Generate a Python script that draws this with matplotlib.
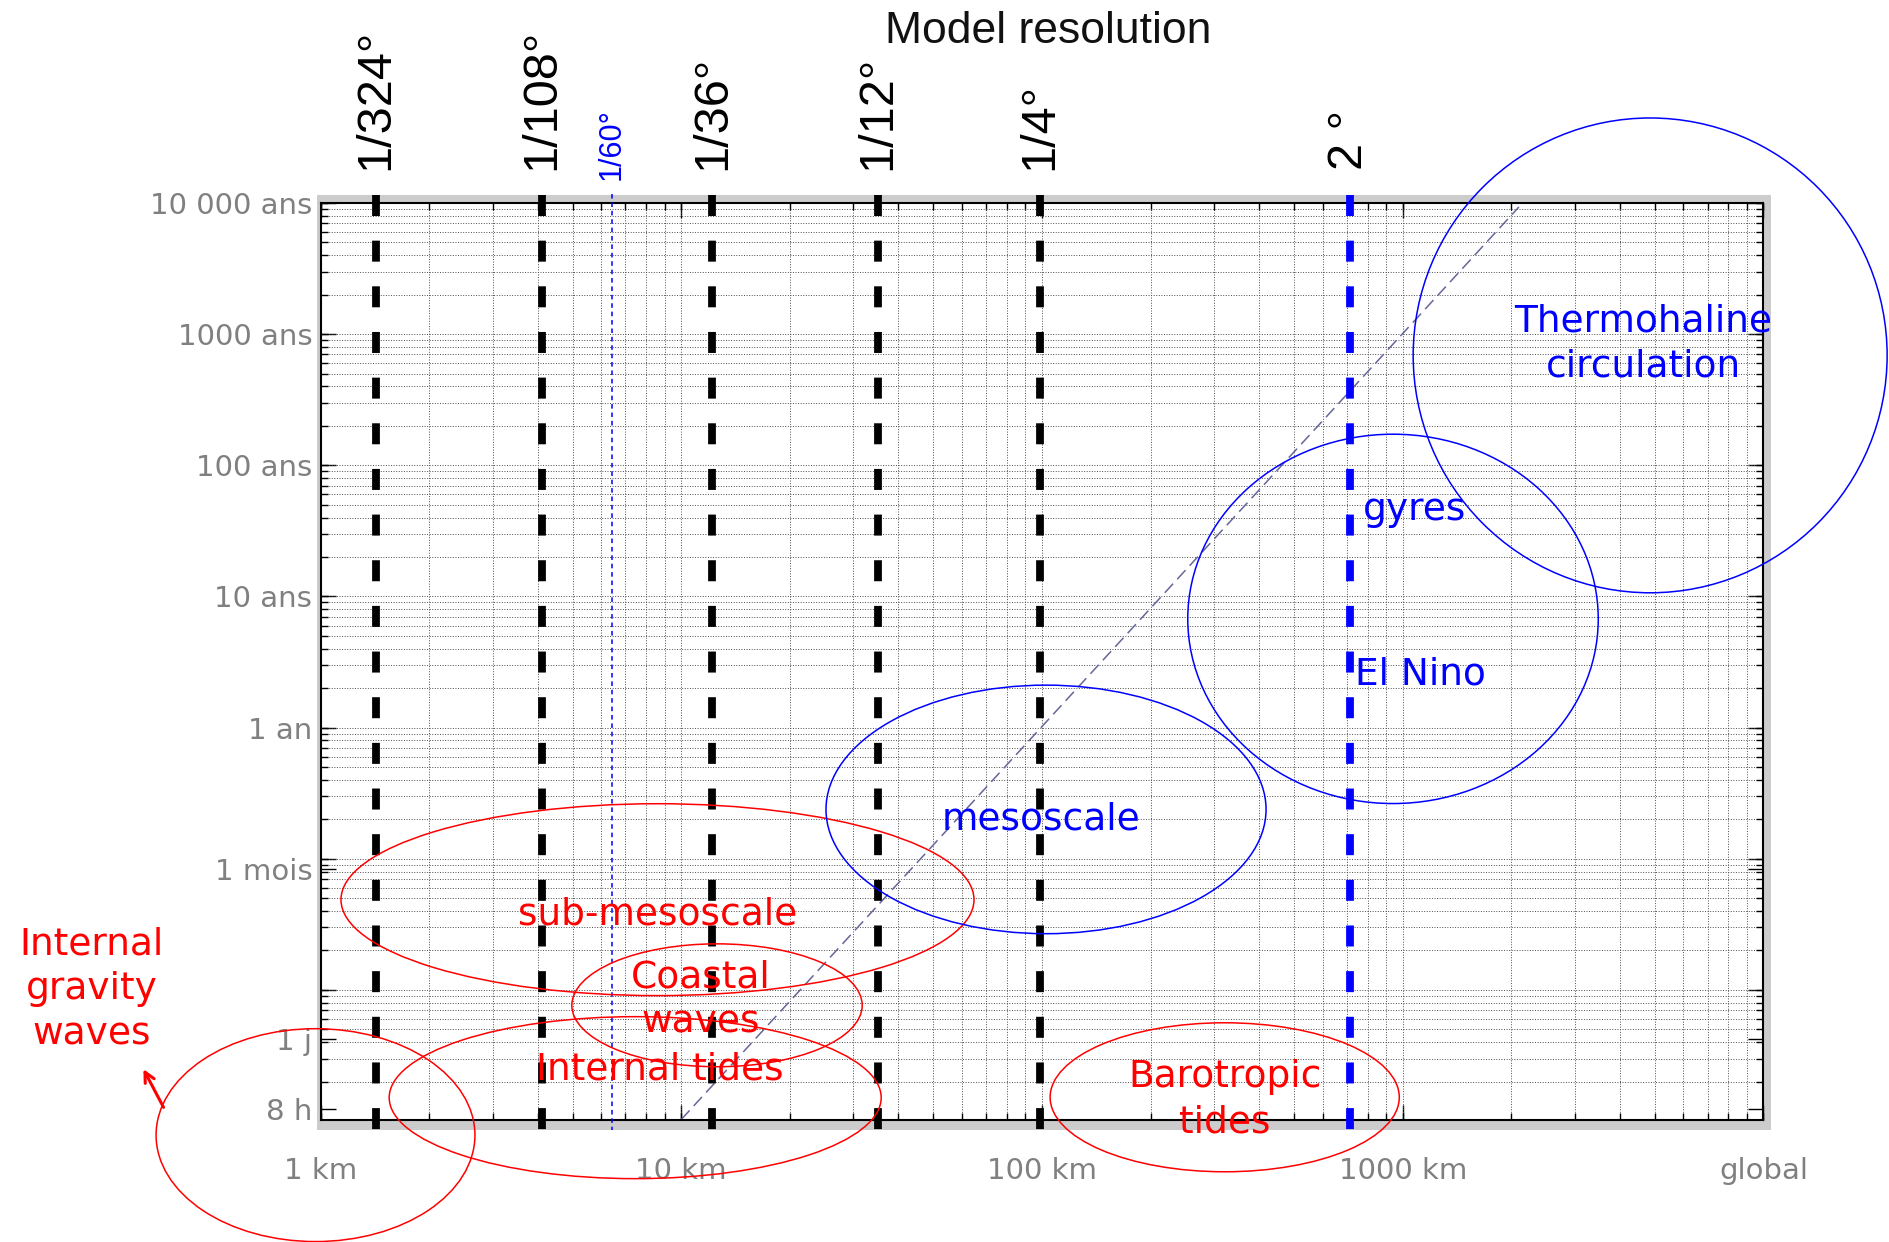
import numpy as np
import matplotlib
matplotlib.use("Agg")
import matplotlib.pyplot as plt
import matplotlib.transforms as mtransforms
from matplotlib.patches import Ellipse, Rectangle
from matplotlib.ticker import LogLocator, NullFormatter

# model resolutions (effective scale in km) drawn as thick dashed lines
res_labels = ["1/324°", "1/108°", "1/36°", "1/12°", "1/4°", "2 °"]
res_km = [1.42, 4.11, 12.2, 35.1, 98.8, 714]
res_colors = ["black", "black", "black", "black", "black", "blue"]
fine_label = "1/60°"
fine_km = 6.43

# processes: ellipse centre (km, years) and extent in decades
ell_names = ["sub-mesoscale", "coastal waves", "internal tides", "internal gravity waves",
             "barotropic tides", "mesoscale", "gyres / El Nino", "thermohaline"]
ell_km = [8.59, 12.56, 7.45, 0.968, 321, 102.6, 940, 4853]
ell_yr = [0.0488, 0.00764, 0.00151, 0.000782, 0.00152, 0.238, 6.75, 689]
ell_wdec = [1.755, 0.805, 1.364, 0.884, 0.968, 1.220, 1.138, 1.314]
ell_hdec = [1.463, 0.937, 1.235, 1.623, 1.136, 1.895, 2.816, 3.620]
ell_colors = ["red"] * 5 + ["blue"] * 3

# labels of the processes (baseline of the last line, km / years)
lab_text = ["Thermohaline\ncirculation", "gyres", "El Nino", "mesoscale", "sub-mesoscale",
            "Coastal\nwaves", "Internal tides", "Barotropic\ntides", "Internal\ngravity\nwaves"]
lab_km = [4640, 1082, 1117, 99.4, 8.57, 11.3, 8.73, 321, 0.232]
lab_yr = [472, 38.4, 2.12, 0.166, 0.0314, 0.00472, 0.00207, 0.000817, 0.00382]
lab_colors = ["blue"] * 4 + ["red"] * 5

# dispersion-like diagonal
diag_km = [10.0, 2100]
diag_yr = [0.00103, 9330]

xtick_vals = [1, 10, 100, 1000, 10000]
xtick_labels = ["1 km", "10 km", "100 km", "1000 km", "global"]
ytick_vals = [1e4, 1e3, 1e2, 10, 1, 0.1, 1 / 12, 0.01, 0.00425, 0.00124]
ytick_labels = ["10 000 ans", "1000 ans", "100 ans", "10 ans", "1 an", "", "1 mois", "", "1 j", "8 h"]

xlim = (1, 1e4)
ylim = (0.00102, 1e4)

fig = plt.figure(figsize=(18.9, 12.42), dpi=100)
rect = [0.16963, 0.09823, 0.76339, 0.73832]
ax = fig.add_axes(rect, zorder=1)

# gray frame around the plot area
fig.add_artist(Rectangle((317 / 1890, 1 - 1130 / 1242), (1771 - 317) / 1890, (1130 - 195) / 1242,
                         transform=fig.transFigure, facecolor="#cccccc", edgecolor="none", zorder=-1))

ax.set_xscale("log")
ax.set_yscale("log")
ax.set_facecolor("white")

ax.xaxis.remove_overlapping_locs = False
ax.yaxis.remove_overlapping_locs = False
ax.set_xticks(xtick_vals)
ax.set_xticklabels(xtick_labels)
ax.set_yticks(ytick_vals)
ax.set_yticklabels(ytick_labels)
ax.xaxis.set_minor_locator(LogLocator(base=10, subs=np.arange(1, 10), numticks=100))
ax.yaxis.set_minor_locator(LogLocator(base=10, subs=np.arange(1, 10), numticks=100))
ax.xaxis.set_minor_formatter(NullFormatter())
ax.yaxis.set_minor_formatter(NullFormatter())

ax.grid(True, which="minor", linestyle=":", color="0.3", linewidth=0.7)
ax.grid(False, which="major")

ax.tick_params(which="both", direction="in", top=True, right=True, color="black", width=1)
ax.tick_params(which="major", length=11)
ax.tick_params(which="minor", length=5)
ax.tick_params(axis="x", which="major", pad=27, labelsize=21, labelcolor="#808080")
ax.tick_params(axis="y", which="major", pad=6, labelsize=21, labelcolor="#808080")
for sp in ax.spines.values():
    sp.set_linewidth(1.5)
    sp.set_color("black")

trans = mtransforms.blended_transform_factory(ax.transData, ax.transAxes)

# resolution lines and labels
for lab, km, col in zip(res_labels, res_km, res_colors):
    ax.plot([km, km], [1.009, -0.011], transform=trans, color=col, lw=5.6,
            dashes=(2.7, 3.17), solid_capstyle="butt", dash_capstyle="butt",
            clip_on=False, zorder=3)
    ax.text(km, 1.036, lab, transform=trans, rotation=90, ha="center", va="bottom",
            fontsize=35, family="Liberation Sans", color="black")

ax.plot([fine_km, fine_km], [1.01, -0.011], transform=trans, color="blue", lw=1.1,
        dashes=(3, 2.5), clip_on=False, zorder=3)
ax.text(fine_km, 1.025, fine_label, transform=trans, rotation=90, ha="center", va="bottom",
        fontsize=22, family="Liberation Sans", color="blue")

ax.plot(diag_km, diag_yr, color="#66669a", lw=1.1, dashes=(8, 4), zorder=2)

# process labels
for txt, km, yr, col in zip(lab_text, lab_km, lab_yr, lab_colors):
    ax.text(km, yr, txt, color=col, fontsize=27, family="DejaVu Sans", ha="center",
            va="baseline", multialignment="center", linespacing=1.335, zorder=5, clip_on=False)

ax.annotate("", xy=(0.32, 0.0026), xytext=(0.37, 0.00122), xycoords="data",
            arrowprops=dict(arrowstyle="->", color="red", lw=2.2, mutation_scale=18),
            annotation_clip=False)

ax.set_xlim(xlim)
ax.set_ylim(ylim)

# ellipses drawn in log-space on a transparent overlay
ax_e = fig.add_axes(rect, zorder=2)
ax_e.set_xlim(np.log10(xlim))
ax_e.set_ylim(np.log10(ylim))
ax_e.axis("off")
ax_e.patch.set_visible(False)
for km, yr, w, h, col in zip(ell_km, ell_yr, ell_wdec, ell_hdec, ell_colors):
    ax_e.add_patch(Ellipse((np.log10(km), np.log10(yr)), w, h, fill=False,
                           edgecolor=col, lw=1.1, clip_on=False))

fig.text(0.5545, 1 - 43 / 1242, "Model resolution", ha="center", va="baseline",
         fontsize=32, family="Liberation Sans", color="#111111")

fig.savefig("out.png", dpi=100, facecolor="white")
